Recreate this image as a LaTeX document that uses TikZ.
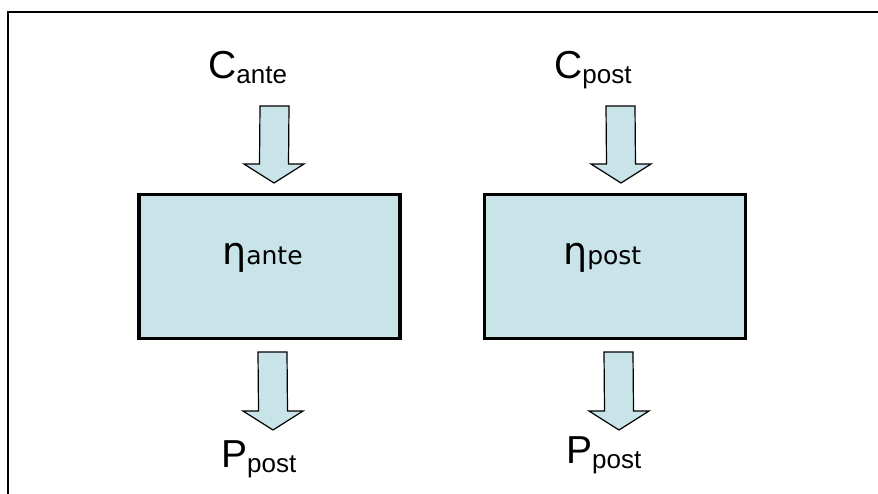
\documentclass[tikz,border=0pt]{standalone}
\usepackage{fontspec}
\setmainfont{Liberation Sans}
\newfontfamily\etafont{DejaVu Sans}
\usetikzlibrary{calc}
\definecolor{boxfill}{RGB}{200,228,232}
\tikzset{
  stagebox/.style={draw=black, line width=3.2pt, fill=boxfill, minimum width=261, minimum height=144, inner sep=0},
  fatarrow/.style={draw=black, line width=1.2pt, fill=boxfill, line join=miter},
  flowlabel/.style={anchor=base west, inner sep=0},
}
% label like C_ante, with a big letter and a lowered subscript
\newcommand{\flowtext}[2]{{\fontsize{39}{40}\selectfont #1}{\fontsize{26}{28}\selectfont\raisebox{-5pt}{#2}}}
\newcommand{\etatext}[1]{\etafont{\fontsize{38}{40}\selectfont\symbol{"03B7}}{\fontsize{25}{27}\selectfont #1}}
% hollow block arrow from #1 down to its tip #2
\newcommand{\blockarrow}[2]{%
  \draw[fatarrow] ($(#1)+(-14.5,0)$) -- ($(#2)+(-14.5,-19)$) -- ($(#2)+(-30,-19)$)
    -- (#2) -- ($(#2)+(30,-19)$) -- ($(#2)+(14.5,-19)$) -- ($(#1)+(14.5,0)$) -- cycle;}

\begin{document}
\begin{tikzpicture}[x=1pt, y=-1pt]
  \useasboundingbox (0,0) rectangle (878,493);
  % frame
  \draw[line width=1.6pt] (8,520) -- (8,12) -- (900,12);

  % the two stages
  \node[stagebox] (ante) at (269.5,266.5) {};
  \node[stagebox] (post) at (615,266.5) {};
  \node[flowlabel] (eta-ante) at (222,264) {\etatext{ante}};
  \node[flowlabel] (eta-post) at (563,264) {\etatext{post}};

  % inputs and outputs
  \node[flowlabel] (c-ante) at (208,78) {\flowtext{C}{ante}};
  \node[flowlabel] (c-post) at (554,78) {\flowtext{C}{post}};
  \node[flowlabel] (p-ante) at (221,467) {\flowtext{P}{post}};
  \node[flowlabel] (p-post) at (566,463) {\flowtext{P}{post}};

  \coordinate (ante-in) at (274.5,106);
  \coordinate (ante-in-tip) at (274,183);
  \coordinate (post-in) at (620.5,106);
  \coordinate (post-in-tip) at (621,183);
  \coordinate (ante-out) at (272.5,352);
  \coordinate (ante-out-tip) at (273,430);
  \coordinate (post-out) at (618.5,352);
  \coordinate (post-out-tip) at (619,430);

  \blockarrow{ante-in}{ante-in-tip}
  \blockarrow{post-in}{post-in-tip}
  \blockarrow{ante-out}{ante-out-tip}
  \blockarrow{post-out}{post-out-tip}
\end{tikzpicture}
\end{document}
